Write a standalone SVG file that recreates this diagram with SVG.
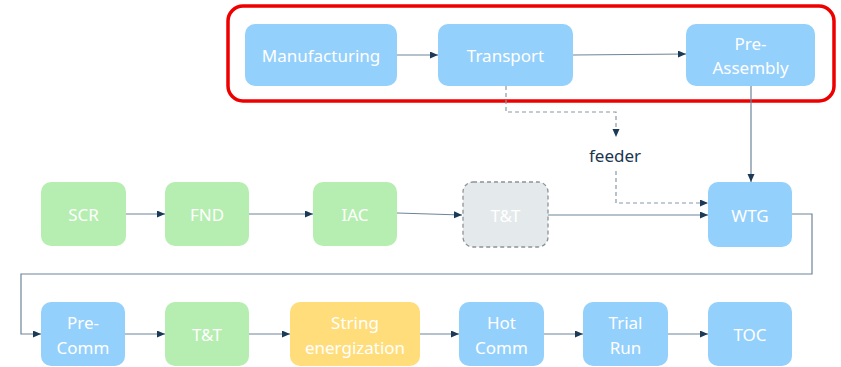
<svg xmlns="http://www.w3.org/2000/svg" width="841" height="367" viewBox="0 0 841 367">
<style>
.b{fill:#94D0FC}
.g{fill:#B5EEB0}
.y{fill:#FFDD7B}
.gr{fill:#E4EAEB;stroke:#8C9398;stroke-width:1.3;stroke-dasharray:4 3}
.t{font-family:"Noto Sans",sans-serif;font-size:17px;fill:#FFFFFF;text-anchor:middle;dominant-baseline:central}
.c{fill:none;stroke:#6D8598;stroke-width:1.2}
.d{fill:none;stroke:#8899A6;stroke-width:1.2;stroke-dasharray:4 3}
</style>
<defs>
<marker id="a" markerWidth="8" markerHeight="8" refX="8" refY="3.5" orient="auto" markerUnits="userSpaceOnUse">
<path d="M0,0 L8,3.5 L0,7 z" fill="#1B3A57"/>
</marker>
</defs>
<rect x="228" y="6" width="606" height="95" rx="15" fill="none" stroke="#EE0000" stroke-width="3.5"/>
<g id="connectors">
<path class="c" d="M397,55 L438,55" marker-end="url(#a)"/>
<path class="c" d="M573,55 L686,54" marker-end="url(#a)"/>
<path class="d" d="M506,86 V112 H616 V137" marker-end="url(#a)"/>
<path class="d" d="M616,171 V203 H708" marker-end="url(#a)"/>
<path class="c" d="M751,86 V182" marker-end="url(#a)"/>
<path class="c" d="M126,214 H165" marker-end="url(#a)"/>
<path class="c" d="M249,214 H313" marker-end="url(#a)"/>
<path class="c" d="M397,213 L462,215" marker-end="url(#a)"/>
<path class="c" d="M548,215 H708" marker-end="url(#a)"/>
<path class="c" d="M792,214 H812 V274 H21 V334 H41" marker-end="url(#a)"/>
<path class="c" d="M125,334 H165" marker-end="url(#a)"/>
<path class="c" d="M249,334 H290" marker-end="url(#a)"/>
<path class="c" d="M420,334 H459" marker-end="url(#a)"/>
<path class="c" d="M544,334 H583" marker-end="url(#a)"/>
<path class="c" d="M668,334 H708" marker-end="url(#a)"/>
</g>
<g id="manufacturing"><rect class="b" x="245" y="24" width="152" height="62" rx="10"/><text class="t" x="321" y="55">Manufacturing</text></g>
<g id="transport"><rect class="b" x="438" y="24" width="135" height="62" rx="10"/><text class="t" x="505.5" y="55">Transport</text></g>
<g id="preassembly"><rect class="b" x="686" y="24" width="129" height="62" rx="10"/><text class="t" x="750.5" y="43">Pre-</text><text class="t" x="750.5" y="67">Assembly</text></g>
<g id="feeder"><text x="615" y="155" font-family="'Noto Sans',sans-serif" font-size="17" fill="#1A3550" text-anchor="middle" dominant-baseline="central">feeder</text></g>
<g id="scr"><rect class="g" x="41" y="182" width="85" height="64" rx="10"/><text class="t" x="83.5" y="214">SCR</text></g>
<g id="fnd"><rect class="g" x="165" y="182" width="84" height="64" rx="10"/><text class="t" x="207" y="214">FND</text></g>
<g id="iac"><rect class="g" x="313" y="182" width="84" height="64" rx="10"/><text class="t" x="355" y="214">IAC</text></g>
<g id="tt1"><rect class="gr" x="463" y="182" width="85" height="65" rx="10"/><text class="t" x="505.5" y="215">T&amp;T</text></g>
<g id="wtg"><rect class="b" x="708" y="182" width="84" height="65" rx="10"/><text class="t" x="750" y="215">WTG</text></g>
<g id="precomm"><rect class="b" x="41" y="302" width="84" height="64" rx="10"/><text class="t" x="83" y="322">Pre-</text><text class="t" x="83" y="347">Comm</text></g>
<g id="tt2"><rect class="g" x="165" y="302" width="84" height="64" rx="10"/><text class="t" x="207" y="334">T&amp;T</text></g>
<g id="string"><rect class="y" x="290" y="302" width="130" height="64" rx="10"/><text class="t" x="355" y="322">String</text><text class="t" x="355" y="347">energization</text></g>
<g id="hotcomm"><rect class="b" x="459" y="302" width="85" height="64" rx="10"/><text class="t" x="501.5" y="322">Hot</text><text class="t" x="501.5" y="347">Comm</text></g>
<g id="trialrun"><rect class="b" x="583" y="302" width="85" height="64" rx="10"/><text class="t" x="625.5" y="322">Trial</text><text class="t" x="625.5" y="347">Run</text></g>
<g id="toc"><rect class="b" x="708" y="302" width="84" height="64" rx="10"/><text class="t" x="750" y="334">TOC</text></g>
</svg>
